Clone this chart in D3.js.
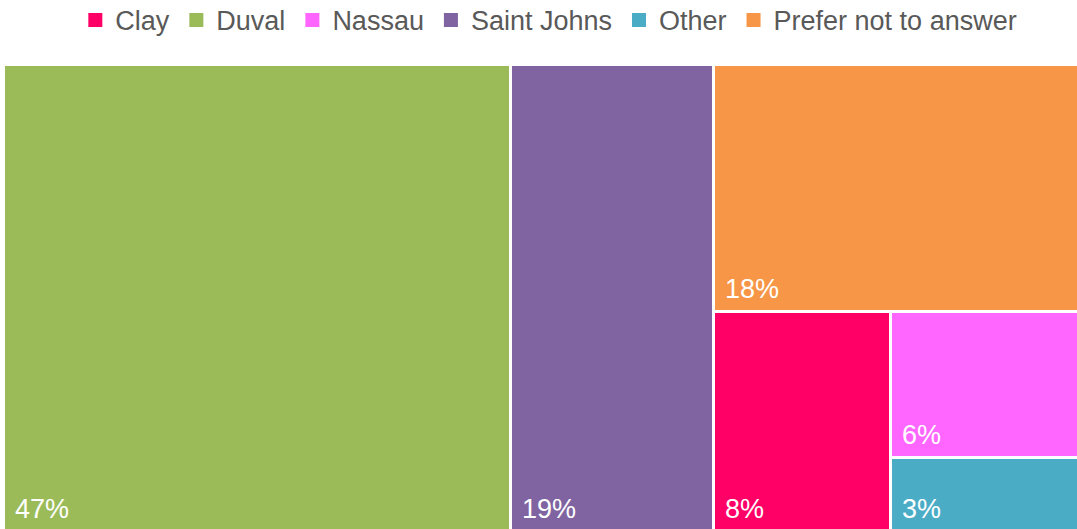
<!DOCTYPE html>
<html>
<head>
<meta charset="utf-8">
<script src="https://cdn.jsdelivr.net/npm/d3@7"></script>
<style>
  body { margin: 0; background: #fff; }
  svg { display: block; font-family: "Liberation Sans", Arial, sans-serif; }
</style>
</head>
<body>
<svg id="chart"></svg>
<script>
// county shares (percent)
const categories = ["Clay", "Duval", "Nassau", "Saint Johns", "Other", "Prefer not to answer"];
const values = [7.8, 47.4, 5.5, 19.0, 2.8, 18.0];
const colors = ["#FF0066", "#9BBB59", "#FF66FF", "#8064A2", "#4BACC6", "#F79646"];

function init() {
    const width = 1077;
    const height = 529;
    const top = 66;
    const left = 5;

    const svg = d3.select("#chart")
        .attr("width", width)
        .attr("height", height);

    const val = name => values[categories.indexOf(name)];
    const leaf = name => ({ name: name, value: val(name) });

    // nesting so slice/dice alternation gives the original layout
    const tree = {
        name: "root",
        children: [
            leaf("Duval"),
            leaf("Saint Johns"),
            { name: "right", children: [
                leaf("Prefer not to answer"),
                { name: "bottom", children: [
                    leaf("Clay"),
                    { name: "small", children: [leaf("Nassau"), leaf("Other")] }
                ]}
            ]}
        ]
    };

    const root = d3.hierarchy(tree).sum(d => d.value || 0);

    d3.treemap()
        .tile(d3.treemapSliceDice)
        .size([width - left, height + 1 - top])
        .paddingInner(3)
        .round(true)(root);

    const color = d3.scaleOrdinal().domain(categories).range(colors);

    const cells = svg.append("g")
        .attr("transform", `translate(${left}, ${top})`)
        .selectAll("g").data(root.leaves()).enter()
        .append("g");

    cells.append("rect")
        .attr("x", d => d.x0)
        .attr("y", d => d.y0)
        .attr("width", d => d.x1 - d.x0)
        .attr("height", d => d.y1 - d.y0)
        .attr("fill", d => color(d.data.name));

    cells.append("text")
        .attr("x", d => d.x0 + 10)
        .attr("y", d => d.y1 - 12)
        .attr("fill", "#fff")
        .style("font-size", "27px")
        .text(d => Math.round(d.data.value) + "%");

    //legend
    const legend = svg.append("g");
    const items = legend.selectAll("g").data(categories).enter().append("g");
    items.append("rect")
        .attr("width", 14)
        .attr("height", 14)
        .attr("y", 13)
        .attr("fill", d => color(d));
    const labels = items.append("text")
        .attr("x", 27)
        .attr("y", 30)
        .attr("fill", "#595959")
        .style("font-size", "27px")
        .text(d => d);

    let x = 0;
    labels.each(function(d, i) {
        const w = this.getComputedTextLength();
        d3.select(this.parentNode).attr("transform", `translate(${x}, 0)`);
        x += 27 + w + 20;
    });
    const total = x - 20;
    // legend sits a little right of centre in the original
    legend.attr("transform", `translate(${(width - total) / 2 + 14}, 0)`);
}

window.onload = init;
</script>
</body>
</html>
